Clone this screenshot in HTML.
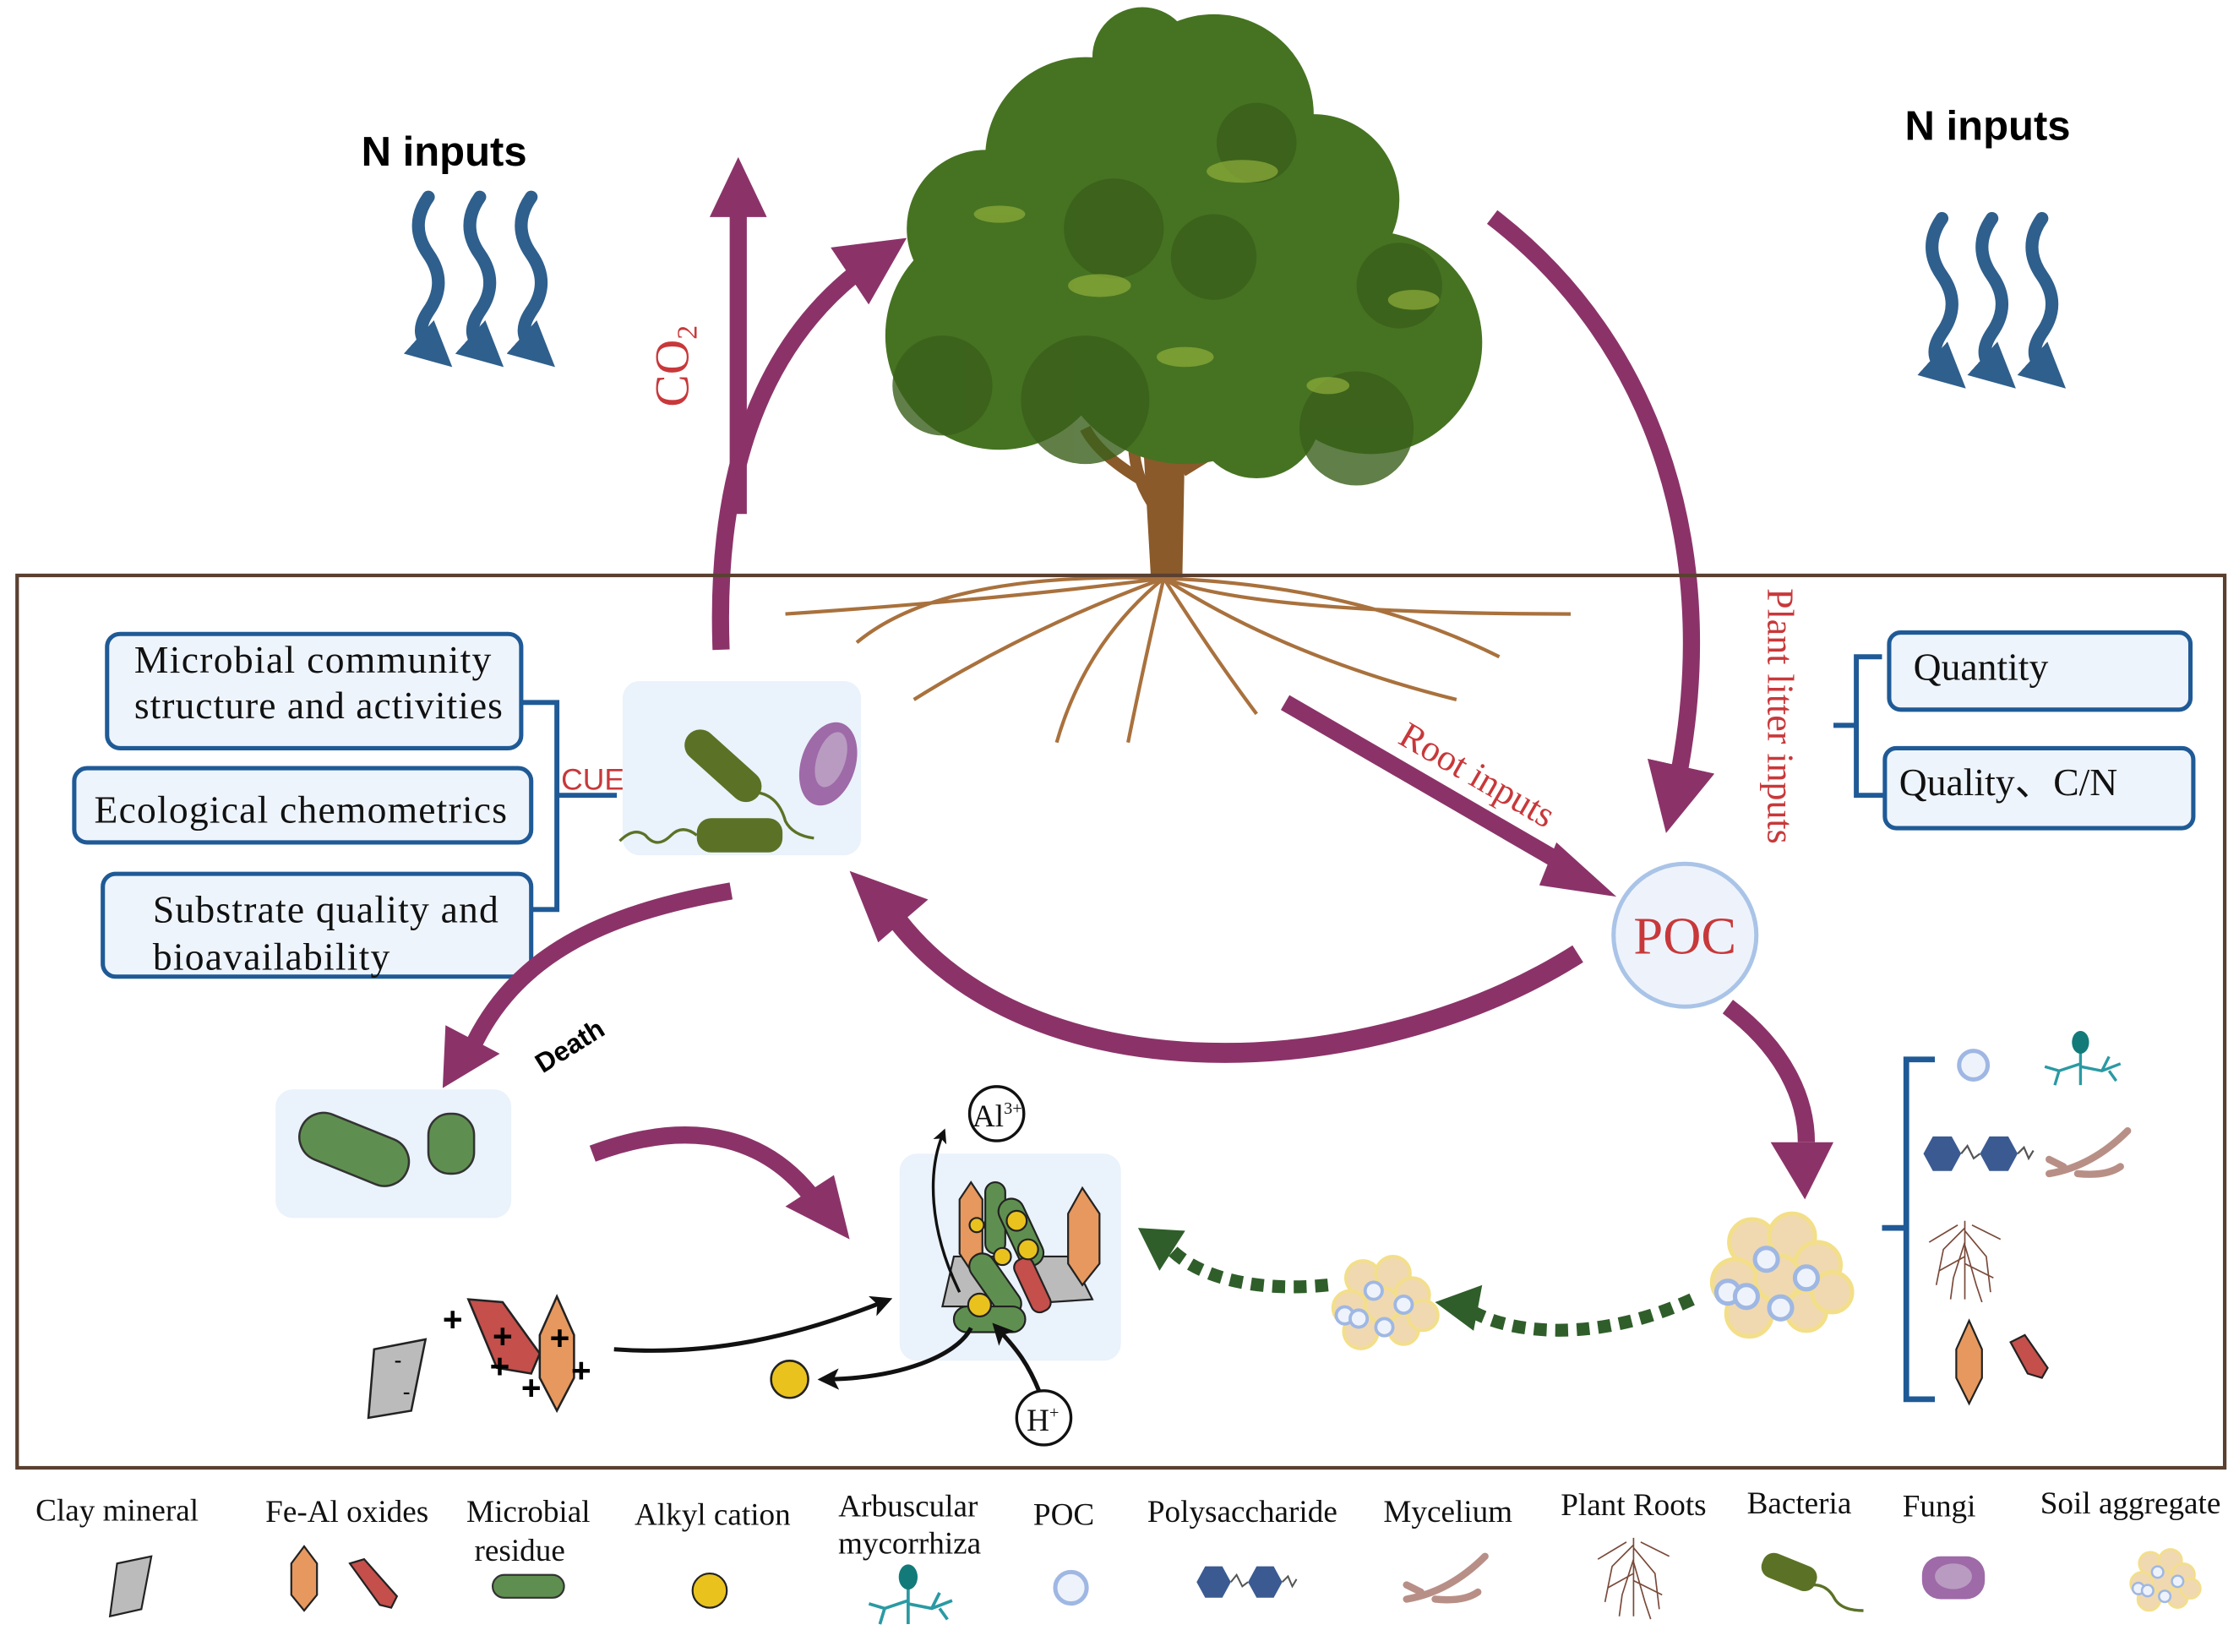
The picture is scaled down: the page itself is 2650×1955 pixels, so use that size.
<!DOCTYPE html>
<html><head><meta charset="utf-8"><style>
html,body{margin:0;padding:0;background:#fff;}
svg{display:block;}
.s{font-family:"Liberation Serif",serif;fill:#111;}
.a{font-family:"Liberation Sans",sans-serif;}
</style></head><body>
<svg width="2650" height="1955" viewBox="0 0 1568 1157" preserveAspectRatio="none" xmlns="http://www.w3.org/2000/svg">
<defs>
<marker id="pm" markerWidth="4" markerHeight="4" refX="2" refY="2" orient="auto" markerUnits="strokeWidth"><path d="M0,0 L4,2 L0,4 z" fill="#8b3369"/></marker>
<marker id="bm" markerWidth="5" markerHeight="5" refX="2.5" refY="2.5" orient="auto" markerUnits="strokeWidth"><path d="M0,0 L5,2.5 L0,5 L1.2,2.5 z" fill="#111"/></marker>
<marker id="wm" markerWidth="3.5" markerHeight="3.5" refX="1" refY="1.75" orient="auto" markerUnits="strokeWidth"><path d="M0,0 L3.5,1.75 L0,3.5 z" fill="#2f5f8c"/></marker>
<g id="agg">
<circle cx="-18" cy="-20" r="16" fill="#f0d9b0" stroke="#f3df8a" stroke-width="3"/>
<circle cx="10" cy="-24" r="16" fill="#f0d9b0" stroke="#f3df8a" stroke-width="3"/>
<circle cx="28" cy="-4" r="16" fill="#f0d9b0" stroke="#f3df8a" stroke-width="3"/>
<circle cx="-30" cy="8" r="16" fill="#f0d9b0" stroke="#f3df8a" stroke-width="3"/>
<circle cx="0" cy="5" r="16" fill="#f0d9b0" stroke="#f3df8a" stroke-width="3"/>
<circle cx="-20" cy="30" r="16" fill="#f0d9b0" stroke="#f3df8a" stroke-width="3"/>
<circle cx="20" cy="28" r="14" fill="#f0d9b0" stroke="#f3df8a" stroke-width="3"/>
<circle cx="38" cy="15" r="14" fill="#f0d9b0" stroke="#f3df8a" stroke-width="3"/>
<circle cx="-8" cy="-8" r="8" fill="#eef3fb" stroke="#9fb7e3" stroke-width="3"/>
<circle cx="20" cy="5" r="8" fill="#eef3fb" stroke="#9fb7e3" stroke-width="3"/>
<circle cx="-35" cy="15" r="8" fill="#eef3fb" stroke="#9fb7e3" stroke-width="3"/>
<circle cx="-22" cy="18" r="8" fill="#eef3fb" stroke="#9fb7e3" stroke-width="3"/>
<circle cx="2" cy="26" r="8" fill="#eef3fb" stroke="#9fb7e3" stroke-width="3"/>
</g>
<g id="myc" fill="none" stroke="#2a9aa3" stroke-width="2">
<path d="M0,0 V25 M0,10 L-15,15 L-25,12 M-15,15 L-18,25 M0,12 L15,15 L28,10 M15,15 L20,5 M20,15 L25,22"/>
<ellipse cx="0" cy="-5" rx="6" ry="8" fill="#137a7a" stroke="none"/>
</g>
<g id="mycel" fill="none" stroke="#b88f86" stroke-width="5" stroke-linecap="round">
<path d="M-30,10 Q0,5 25,-20 M-10,10 Q10,12 20,5 M-20,5 L-30,0"/>
</g>
<g id="poly"><polygon points="-30,0 -24,-11 -12,-11 -6,0 -12,11 -24,11" fill="#3b5a92"/><polygon points="6,0 12,-11 24,-11 30,0 24,11 12,11" fill="#3b5a92"/><path d="M-6,0 L-2,-5 L2,3 L6,0 M30,0 L34,-4 L37,3 L40,-2" stroke="#555" fill="none" stroke-width="1.2"/></g>
<g id="roots" fill="none" stroke="#7a4a3a" stroke-width="1"><path d="M0,-25 V30 M0,-20 L-15,-5 L-20,20 M0,-18 L15,0 L18,25 M0,-10 L-8,15 L-10,30 M0,-8 L8,20 L12,32 M-5,-22 L-25,-10 M5,-22 L25,-12 M0,0 L-18,10 M0,5 L20,15"/></g>
</defs>

<text x="311" y="116" class="a" font-size="29" font-weight="bold" text-anchor="middle">N inputs</text>
<g fill="none" stroke="#2f5f8c" stroke-width="9" stroke-linecap="round">
<path d="M300,138 q-14,20 0,40 q14,20 0,40 q-10,15 0,24" marker-end="url(#wm)"/>
<path d="M336,138 q-14,20 0,40 q14,20 0,40 q-10,15 0,24" marker-end="url(#wm)"/>
<path d="M372,138 q-14,20 0,40 q14,20 0,40 q-10,15 0,24" marker-end="url(#wm)"/>
</g>
<text x="1392" y="98" class="a" font-size="29" font-weight="bold" text-anchor="middle">N inputs</text>
<g fill="none" stroke="#2f5f8c" stroke-width="9" stroke-linecap="round">
<path d="M1360,153 q-14,20 0,40 q14,20 0,40 q-10,15 0,24" marker-end="url(#wm)"/>
<path d="M1395,153 q-14,20 0,40 q14,20 0,40 q-10,15 0,24" marker-end="url(#wm)"/>
<path d="M1430,153 q-14,20 0,40 q14,20 0,40 q-10,15 0,24" marker-end="url(#wm)"/>
</g>

<line x1="517" y1="360" x2="517" y2="140" stroke="#8b3369" stroke-width="12"/>
<polygon points="497,152 537,152 517,110" fill="#8b3369"/>
<text transform="translate(482,285) rotate(-90)" class="s" font-size="34" style="fill:#c8383a">CO<tspan font-size="20" dy="6">2</tspan></text>
<path d="M505,455 C500,320 540,230 615,180" fill="none" stroke="#8b3369" stroke-width="12" marker-end="url(#pm)"/>

<g>
<path d="M800,300 L830,300 L828,405 L806,405 z" fill="#8a5a2b"/>
<path d="M806,340 Q770,320 760,300 M828,330 Q860,310 880,300 M812,360 Q790,330 795,300" stroke="#8a5a2b" stroke-width="8" fill="none"/>
<g fill="#467322">
<circle cx="700" cy="235" r="80"/><circle cx="760" cy="110" r="70"/><circle cx="850" cy="80" r="70"/>
<circle cx="920" cy="140" r="60"/><circle cx="960" cy="240" r="78"/><circle cx="830" cy="230" r="95"/>
<circle cx="690" cy="160" r="55"/><circle cx="800" cy="40" r="35"/><circle cx="880" cy="290" r="45"/>
</g>
<g fill="#3a5f1a" opacity="0.8">
<circle cx="760" cy="280" r="45"/><circle cx="950" cy="300" r="40"/><circle cx="660" cy="270" r="35"/><circle cx="850" cy="180" r="30"/>
<circle cx="780" cy="160" r="35"/><circle cx="980" cy="200" r="30"/><circle cx="880" cy="100" r="28"/>
</g>
<g fill="#8fae3a" opacity="0.7">
<ellipse cx="770" cy="200" rx="22" ry="8"/><ellipse cx="870" cy="120" rx="25" ry="8"/><ellipse cx="990" cy="210" rx="18" ry="7"/><ellipse cx="700" cy="150" rx="18" ry="6"/><ellipse cx="830" cy="250" rx="20" ry="7"/><ellipse cx="930" cy="270" rx="15" ry="6"/>
</g>
</g>
<g fill="none" stroke="#a9713d" stroke-width="2.5">
<path d="M815,405 Q700,420 550,430 M815,405 Q720,440 640,490 M815,405 Q760,450 740,520 M815,405 Q800,470 790,520 M815,405 Q880,430 1100,430 M815,405 Q900,460 1020,490 M815,405 Q850,460 880,500 M815,405 Q660,400 600,450 M815,405 Q950,410 1050,460"/>
</g>

<path d="M1045,152 C1160,240 1210,390 1172,560" fill="none" stroke="#8b3369" stroke-width="12" marker-end="url(#pm)"/>

<rect x="12" y="403" width="1546" height="625" fill="none" stroke="#5a4030" stroke-width="2.5"/>

<g fill="#eef4fb" stroke="#1f5a96" stroke-width="3">
<rect x="75" y="444" width="290" height="80" rx="9"/>
<rect x="52" y="538" width="320" height="52" rx="9"/>
<rect x="72" y="612" width="300" height="72" rx="9"/>
</g>
<text x="94" y="471" class="s" font-size="27" textLength="250">Microbial community</text>
<text x="94" y="503" class="s" font-size="27" textLength="258">structure and activities</text>
<text x="66" y="576" class="s" font-size="27" textLength="289">Ecological chemometrics</text>
<text x="107" y="646" class="s" font-size="27" textLength="242">Substrate quality and</text>
<text x="107" y="679" class="s" font-size="27" textLength="166">bioavailability</text>
<path d="M365,492 H390 V637 H372 M390,557 H432" fill="none" stroke="#1f5a96" stroke-width="3.5"/>
<text x="393" y="553" class="a" font-size="21" fill="#c8383a">CUE</text>

<rect x="436" y="477" width="167" height="122" rx="12" fill="#eaf2fb"/>
<rect x="474" y="525" width="65" height="22" rx="11" fill="#5b7226" transform="rotate(42 506 536)"/>
<rect x="488" y="573" width="60" height="24" rx="10" fill="#5b7226"/>
<path d="M488,585 q-10,-8 -18,0 q-10,10 -18,0 q-8,-6 -18,4" fill="none" stroke="#5b7226" stroke-width="2"/>
<path d="M530,555 q15,2 20,20 q5,10 20,12" fill="none" stroke="#5b7226" stroke-width="2"/>
<ellipse cx="580" cy="535" rx="19" ry="30" fill="#9e6aa8" transform="rotate(18 580 535)"/>
<ellipse cx="582" cy="532" rx="10" ry="20" fill="#b99bc1" transform="rotate(18 582 532)"/>

<line x1="900" y1="492" x2="1100" y2="608" stroke="#8b3369" stroke-width="12"/>
<polygon points="1090,590 1132,628 1078,620" fill="#8b3369"/>
<text transform="translate(978,520) rotate(30)" class="s" font-size="26" style="fill:#c8383a">Root inputs</text>
<text transform="translate(1238,412) rotate(90)" class="s" font-size="26" style="fill:#c8383a">Plant litter inputs</text>

<g fill="#eef4fb" stroke="#1f5a96" stroke-width="3">
<rect x="1323" y="443" width="211" height="54" rx="8"/>
<rect x="1320" y="524" width="216" height="56" rx="8"/>
</g>
<text x="1340" y="476" class="s" font-size="27">Quantity</text>
<text x="1330" y="557" class="s" font-size="27">Quality、C/N</text>
<path d="M1318,460 H1300 V557 H1320 M1300,508 H1284" fill="none" stroke="#1f5a96" stroke-width="3.5"/>

<circle cx="1180" cy="655" r="50" fill="#eef3fb" stroke="#aac4e8" stroke-width="3"/>
<text x="1180" y="668" class="s" font-size="37" text-anchor="middle" style="fill:#c8383a">POC</text>

<path d="M1105,668 C960,760 720,770 625,640" fill="none" stroke="#8b3369" stroke-width="14"/>
<polygon points="595,610 650,630 615,660" fill="#8b3369"/>

<path d="M512,624 C420,640 360,670 330,735" fill="none" stroke="#8b3369" stroke-width="12"/>
<polygon points="310,762 312,718 350,738" fill="#8b3369"/>
<text transform="translate(380,752) rotate(-32)" class="a" font-size="19" font-weight="bold">Death</text>

<rect x="193" y="763" width="165" height="90" rx="12" fill="#eaf2fb"/>
<rect x="208" y="788" width="80" height="34" rx="17" fill="#5f8f50" stroke="#333" stroke-width="1.5" transform="rotate(22 248 805)"/>
<rect x="300" y="780" width="32" height="42" rx="15" fill="#5f8f50" stroke="#333" stroke-width="1.5"/>

<path d="M415,808 C490,780 540,800 570,840" fill="none" stroke="#8b3369" stroke-width="12"/>
<polygon points="595,868 550,845 584,823" fill="#8b3369"/>

<path d="M1210,705 C1250,735 1265,770 1265,800" fill="none" stroke="#8b3369" stroke-width="12"/>
<polygon points="1240,800 1284,800 1264,840" fill="#8b3369"/>

<rect x="630" y="808" width="155" height="145" rx="12" fill="#eaf2fb"/>
<g stroke="#222" stroke-width="1.3">
<polygon points="668,880 700,880 690,915 660,915" fill="#bbb"/>
<polygon points="720,880 750,880 765,910 735,912" fill="#bbb"/>
<polygon points="672,840 680,828 688,840 688,878 680,890 672,878" fill="#e6985e"/>
<polygon points="748,850 758,832 770,850 770,885 758,900 748,885" fill="#e6985e"/>
<rect x="690" y="828" width="14" height="50" rx="7" fill="#5f8f50"/>
<rect x="706" y="838" width="18" height="50" rx="9" fill="#5f8f50" transform="rotate(-25 715 863)"/>
<rect x="688" y="875" width="18" height="50" rx="9" fill="#5f8f50" transform="rotate(-35 697 900)"/>
<rect x="716" y="880" width="14" height="40" rx="6" fill="#c44f4b" transform="rotate(-25 723 900)"/>
<rect x="668" y="915" width="50" height="18" rx="9" fill="#5f8f50"/>
<circle cx="712" cy="855" r="7" fill="#e9c21e"/><circle cx="720" cy="875" r="7" fill="#e9c21e"/><circle cx="702" cy="880" r="6" fill="#e9c21e"/><circle cx="686" cy="914" r="8" fill="#e9c21e"/><circle cx="684" cy="858" r="5" fill="#e9c21e"/>
</g>
<path d="M672,905 C650,860 650,820 660,795" fill="none" stroke="#111" stroke-width="2" marker-end="url(#bm)"/>
<circle cx="698" cy="780" r="19" fill="#fff" stroke="#111" stroke-width="2"/>
<text x="681" y="789" class="s" font-size="22">Al<tspan font-size="12" dy="-9">3+</tspan></text>
<path d="M430,945 C500,950 560,935 618,912" fill="none" stroke="#111" stroke-width="3" marker-end="url(#bm)"/>
<path d="M680,930 C670,950 630,965 580,966" fill="none" stroke="#111" stroke-width="3" marker-end="url(#bm)"/>
<circle cx="553" cy="966" r="13" fill="#e9c21e" stroke="#222" stroke-width="1.5"/>
<path d="M728,975 C720,955 712,945 700,932" fill="none" stroke="#111" stroke-width="3" marker-end="url(#bm)"/>
<circle cx="731" cy="993" r="19" fill="#fff" stroke="#111" stroke-width="2"/>
<text x="719" y="1002" class="s" font-size="22">H<tspan font-size="12" dy="-9">+</tspan></text>

<polygon points="262,945 298,938 288,988 258,993" fill="#bbb" stroke="#222" stroke-width="1.5"/>
<text x="276" y="958" class="a" font-size="16">-</text><text x="282" y="980" class="a" font-size="16">-</text>
<polygon points="328,910 352,912 378,948 372,962 348,958" fill="#c44f4b" stroke="#222" stroke-width="1.5"/>
<polygon points="378,935 390,908 402,935 402,965 390,988 378,965" fill="#e6985e" stroke="#222" stroke-width="1.5"/>
<g class="a" font-size="24" font-weight="bold"><text x="310" y="932">+</text><text x="345" y="944">+</text><text x="343" y="965">+</text><text x="365" y="980">+</text><text x="385" y="945">+</text><text x="400" y="968">+</text></g>

<path d="M1185,910 C1120,940 1060,935 1030,918" fill="none" stroke="#2f5e2a" stroke-width="9" stroke-dasharray="9,6"/>
<polygon points="1005,912 1038,900 1032,932" fill="#2f5e2a"/>
<path d="M930,900 C880,905 840,895 820,875" fill="none" stroke="#2f5e2a" stroke-width="9" stroke-dasharray="9,6"/>
<polygon points="797,860 830,862 812,890" fill="#2f5e2a"/>
<use href="#agg" transform="translate(1245,890)"/>
<use href="#agg" transform="translate(968,910) scale(0.75)"/>

<path d="M1355,742 H1335 V980 H1355 M1335,860 H1318" fill="none" stroke="#1f5a96" stroke-width="4"/>
<circle cx="1382" cy="746" r="10" fill="#eef3fb" stroke="#9fb7e3" stroke-width="3"/>
<use href="#myc" transform="translate(1457,735)"/>
<use href="#poly" transform="translate(1380,808) scale(1.1)"/>
<use href="#mycel" transform="translate(1465,812)"/>
<use href="#roots" transform="translate(1376,880)"/>
<polygon points="1370,945 1379,925 1388,945 1388,965 1379,983 1370,965" fill="#e6985e" stroke="#222" stroke-width="1.3"/>
<polygon points="1408,940 1418,935 1434,958 1430,965 1420,962" fill="#c44f4b" stroke="#222" stroke-width="1.3"/>

<g class="s" font-size="22" text-anchor="middle">
<text x="82" y="1065">Clay mineral</text>
<text x="243" y="1066">Fe-Al oxides</text>
<text x="370" y="1066">Microbial</text><text x="364" y="1093">residue</text>
<text x="499" y="1068">Alkyl cation</text>
<text x="636" y="1062">Arbuscular</text><text x="637" y="1088">mycorrhiza</text>
<text x="745" y="1068">POC</text>
<text x="870" y="1066">Polysaccharide</text>
<text x="1014" y="1066">Mycelium</text>
<text x="1144" y="1061">Plant Roots</text>
<text x="1260" y="1060">Bacteria</text>
<text x="1358" y="1062">Fungi</text>
<text x="1492" y="1060">Soil aggregate</text>
</g>
<polygon points="82,1095 106,1090 99,1127 77,1132" fill="#bbb" stroke="#222" stroke-width="1.3"/>
<polygon points="204,1095 213,1083 222,1095 222,1117 213,1128 204,1117" fill="#e6985e" stroke="#222" stroke-width="1.3"/>
<polygon points="245,1095 255,1092 278,1118 274,1126 266,1124" fill="#c44f4b" stroke="#222" stroke-width="1.3"/>
<rect x="345" y="1103" width="50" height="16" rx="8" fill="#5f8f50" stroke="#333" stroke-width="1.3"/>
<circle cx="497" cy="1114" r="12" fill="#e9c21e" stroke="#222" stroke-width="1.3"/>
<use href="#myc" transform="translate(636,1110) scale(1.1)"/>
<circle cx="750" cy="1112" r="11" fill="#eef3fb" stroke="#9fb7e3" stroke-width="3"/>
<use href="#poly" transform="translate(868,1108)"/>
<use href="#mycel" transform="translate(1015,1110)"/>
<use href="#roots" transform="translate(1144,1102)"/>
<rect x="1233" y="1092" width="40" height="18" rx="8" fill="#5b7226" transform="rotate(22 1253 1101)"/>
<path d="M1270,1110 q10,0 15,10 q5,8 20,8" fill="none" stroke="#5b7226" stroke-width="2"/>
<rect x="1346" y="1090" width="44" height="30" rx="13" fill="#9e6aa8"/>
<ellipse cx="1368" cy="1104" rx="13" ry="9" fill="#b99bc1"/>
<use href="#agg" transform="translate(1515,1105) scale(0.5)"/>
</svg>
</body></html>
